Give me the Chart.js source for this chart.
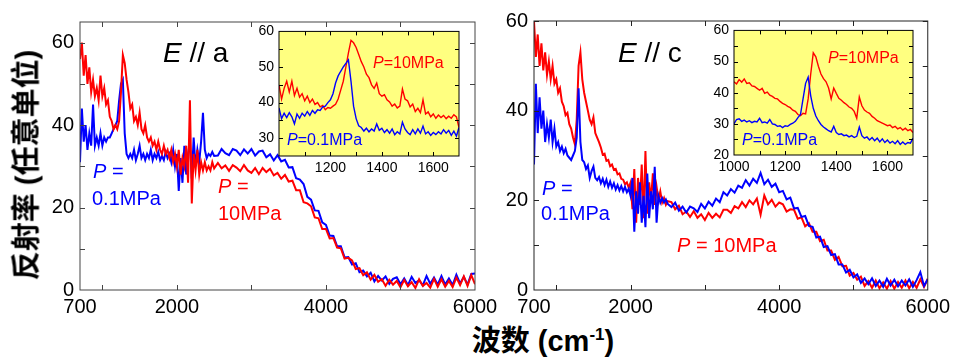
<!DOCTYPE html>
<html>
<head>
<meta charset="utf-8">
<script src="https://cdn.jsdelivr.net/npm/chart.js@4.4.1/dist/chart.umd.min.js"></script>
<style>
  body { margin: 0; background: #fff; }
  #wrap { position: relative; width: 955px; height: 358px; overflow: hidden; background: #fff;
          font-family: "Liberation Sans", Arial, sans-serif; }
  canvas { position: absolute; }
  .lbl { position: absolute; white-space: nowrap; line-height: 1; }
  .big { font-size: 28px; color: #000; }
  .p { font-size: 20px; }
  .ins { font-size: 16px; }
  .red { color: #f00; }
  .blue { color: #00f; }
  .title { position: absolute; white-space: nowrap; font-weight: bold; color: #000; line-height: 1;
           font-family: "Liberation Sans", "Noto Sans CJK SC", sans-serif; }
</style>
</head>
<body>
<div id="wrap">
  <canvas id="mainA" width="465" height="320" style="left:40px;top:0px"></canvas>
  <canvas id="mainC" width="461" height="320" style="left:494px;top:0px"></canvas>
  <canvas id="insetA" width="218" height="158" style="left:255px;top:18px"></canvas>
  <canvas id="insetC" width="221" height="158" style="left:708px;top:17px"></canvas>

  <div class="lbl big" style="left:163px;top:39px"><i>E</i> // a</div>
  <div class="lbl big" style="left:618px;top:39px"><i>E</i> // c</div>

  <div class="lbl p blue" style="left:93px;top:161px"><i>P</i> =</div>
  <div class="lbl p blue" style="left:92px;top:188px">0.1MPa</div>
  <div class="lbl p red" style="left:218px;top:176px"><i>P</i> =</div>
  <div class="lbl p red" style="left:218px;top:203px">10MPa</div>

  <div class="lbl p blue" style="left:542px;top:178px"><i>P</i> =</div>
  <div class="lbl p blue" style="left:541px;top:203px">0.1MPa</div>
  <div class="lbl p red" style="left:677px;top:235px"><i>P</i> = 10MPa</div>

  <div class="lbl ins red" style="left:373px;top:55px"><i>P</i>=10MPa</div>
  <div class="lbl ins blue" style="left:287px;top:132px"><i>P</i>=0.1MPa</div>
  <div class="lbl ins red" style="left:828px;top:50px"><i>P</i>=10MPa</div>
  <div class="lbl ins blue" style="left:742px;top:132px"><i>P</i>=0.1MPa</div>

  <div class="title" style="left:27px;top:165px;font-size:29px;transform:translate(-50%,-50%) rotate(-90deg)">反射率 (任意单位)</div>
  <div class="title" style="left:543px;top:341px;font-size:29px;transform:translate(-50%,-50%)">波数 (cm<sup style="font-size:17px">-1</sup>)</div>
</div>

<script>
// wavenumber grid shared by the main spectra (cm-1)
const waveNums = [
  700, 725, 750, 775, 800, 825, 850, 875, 900, 925, 950, 975,
  1000, 1025, 1050, 1075, 1100, 1125, 1150, 1175, 1200, 1225, 1250, 1275,
  1300, 1325, 1350, 1375, 1400, 1425, 1450, 1475, 1500, 1525, 1550, 1575,
  1600, 1625, 1650, 1675, 1700, 1725, 1750, 1775, 1800, 1825, 1850, 1875,
  1900, 1925, 1950, 1975, 2000, 2025, 2050, 2075, 2100, 2125, 2150, 2175,
  2200, 2225, 2250, 2275, 2300, 2325, 2350, 2375, 2400, 2425, 2450, 2475,
  2500,
  2550, 2600, 2650, 2700, 2750, 2800, 2850, 2900, 2950, 3000,
  3050, 3100, 3150, 3200, 3250, 3300, 3350, 3400, 3450, 3500,
  3550, 3600, 3650, 3700, 3750, 3800, 3850, 3900, 3950, 4000,
  4050, 4100, 4150, 4200, 4250, 4300, 4350, 4400, 4450, 4500,
  4550, 4600, 4650, 4700, 4750, 4800, 4850, 4900, 4950, 5000,
  5050, 5100, 5150, 5200, 5250, 5300, 5350, 5400, 5450, 5500,
  5550, 5600, 5650, 5700, 5750, 5800, 5850, 5900, 5950, 6000
];

// E // a, P = 10MPa
const redA = [
  56, 60, 52, 57, 50, 54, 48, 51, 47, 49, 46, 52,
  47, 49, 45, 46, 42, 41, 39, 40, 39, 41, 48, 57,
  55, 51, 48, 44, 45, 41, 42, 40, 43, 39, 38, 40,
  37, 36, 37, 35, 36, 34, 36, 34, 33, 35, 33, 34,
  32, 34, 31, 33, 30, 34, 28, 32, 30, 35, 26, 46,
  21, 33, 29, 34, 28, 31, 29, 31, 29, 30, 29, 31,
  29.5,
  30.8, 29.5, 30.2, 28.9, 30.3, 29.7, 28.8, 30.3, 29, 28.4,
  29.6, 28.1, 29.6, 28.6, 29.4, 27.8, 28.4, 27, 27.9, 26.3,
  26.5, 24.2, 24.2, 21.3, 21, 20.3, 17.6, 17.4, 14.8, 14.8,
  12.5, 12.6, 10.3, 10.1, 7.6, 7.8, 7.2, 5.1, 5.3, 3.6,
  4.3, 2.5, 3.7, 2, 2.6, 1, 2.5, 1.3, 2.2, 0.7,
  2.4, 0.9, 1.9, 0.5, 2.6, 1, 1.7, 0.6, 2.7, 0.8,
  2.6, 0.8, 2.2, 0.7, 3, 1.2, 3.3, 1, 3.6, 1.4
];
// E // a, P = 0.1MPa
const blueA = [
  31, 44, 36, 40, 34, 38, 35, 45, 35, 37, 35, 38,
  35, 37, 36, 37, 37, 38, 39, 40, 41, 46, 50, 51,
  38, 33, 32, 33, 32, 34, 31.5, 33, 35, 32, 33, 31.5,
  33, 32, 34, 31.5, 33, 32, 33.5, 31.5, 32.5, 31.5, 33.5, 32,
  33, 31, 34, 30, 33, 24, 32, 26, 35, 28, 33, 36,
  27, 37, 30, 34, 31, 36, 43, 34, 32, 33, 32.5, 33.5,
  32.5,
  32.6, 34.2, 33.2, 32.7, 34.2, 33.8, 32.7, 34.1, 33.1, 34.2,
  32.6, 33.6, 33.8, 32.2, 32.9, 31.4, 32.7, 31.2, 31.6, 29.7,
  29.8, 27.1, 26.8, 25.7, 22.6, 21.9, 19.3, 19.2, 16.4, 15.8,
  13.2, 13.1, 10.6, 10.6, 7.9, 8, 6.2, 6.5, 4.3, 4.7,
  3.3, 4.2, 2.1, 3.4, 2.3, 3.3, 1.5, 2.7, 3.1, 1.4,
  2.8, 1.2, 3.2, 1.7, 2.4, 1.1, 3.4, 1.5, 3, 1.3,
  3.4, 1.3, 2.8, 1.2, 3.7, 1.6, 3.2, 1.3, 3.9, 4
];
// E // c, P = 10MPa
const redC = [
  60, 52, 57, 50, 55, 49, 53, 48, 51, 47, 50, 46,
  47, 44, 45, 42, 41, 39, 39.5, 37, 36, 34, 32.5, 38,
  50, 53, 47, 44, 42, 40, 38, 37, 38.5, 35, 34, 33,
  31.8, 30.2, 30.4, 28.8, 29, 27.6, 28, 26.8, 27, 25.8, 26, 24.8,
  24.6, 23.6, 24, 22.8, 24, 18, 27, 15, 25, 19, 28, 16,
  31, 17, 24, 20, 26, 19, 23, 20, 22, 19.5, 20.5, 19,
  19.8,
  19.6, 18, 18.8, 16.9, 17.5, 16.3, 17.6, 16.1, 16.9, 15.6,
  17.2, 16.1, 17, 16.2, 17.9, 17.9, 17.2, 18.7, 18.2, 19.6,
  18.5, 20, 19.1, 20.4, 16.8, 21.1, 19.1, 20.1, 18.6, 19.5,
  19.1, 17.5, 18, 17.9, 15.9, 16.2, 14.2, 14.9, 13, 13,
  10.9, 11.2, 8.8, 8.8, 6.7, 7.4, 5.3, 5.4, 3.2, 3.8,
  2.3, 3, 0.9, 2, 0.5, 2.1, 0.4, 1.7, 0.3, 2,
  0.3, 1.8, 0.5, 2.1, 0.4, 1.8, 0.5, 2.4, 0.7, 2.5
];
// E // c, P = 0.1MPa
const blueC = [
  28, 46, 35, 43, 36, 40, 33, 37, 34, 38, 33, 36,
  32, 33, 31, 32, 30.5, 31.5, 30, 29.5, 29, 30, 31, 34,
  45, 33, 29, 28.5, 27, 27.8, 25, 26.5, 27.5, 25, 24.5, 25.2,
  23.8, 24.8, 23.4, 24.6, 23, 24.2, 22.8, 23.8, 22.4, 23.4, 22.2, 23.2,
  22, 23, 21.8, 22.6, 21, 25, 13, 22, 17, 24, 15, 21,
  14, 26, 16, 22, 18, 27.5, 15, 21, 19.5, 20.5, 19.5, 20.2,
  19.2,
  18.5, 19.5, 17.7, 18.6, 17.3, 18.6, 18.2, 17.4, 19.2, 18.2,
  19.7, 18.8, 20.4, 19.6, 21.8, 21.1, 22.5, 21.7, 23.3, 22.8,
  24.5, 23.3, 24.8, 23.9, 26.1, 23.6, 24.6, 23, 23.7, 21.8,
  22.1, 20.2, 20.6, 18.2, 18.3, 16.3, 16.5, 14.3, 14.1, 11.7,
  11.9, 9.6, 9.8, 7.8, 8, 5.7, 5.7, 3.9, 4.5, 2.8,
  3.5, 1.6, 2.6, 1.3, 2.6, 0.9, 2.1, 0.7, 2.5, 1,
  2.3, 0.8, 2.1, 1, 2.4, 0.7, 2.2, 4, 0.9, 2.4
];

// inset grid (cm-1)
const insetWaveNums = [
  1000, 1010, 1020, 1030, 1040, 1050, 1060, 1070, 1080, 1090,
  1100, 1110, 1120, 1130, 1140, 1150, 1160, 1170, 1180, 1190,
  1200, 1210, 1220, 1230, 1240, 1250, 1260, 1270, 1280, 1290,
  1300, 1310, 1320, 1330, 1340, 1350, 1360, 1370, 1380, 1390,
  1400, 1410, 1420, 1430, 1440, 1450, 1460, 1470, 1480, 1490,
  1500, 1510, 1520, 1530, 1540, 1550, 1560, 1570, 1580, 1590,
  1600, 1610, 1620, 1630, 1640, 1650, 1660, 1670, 1680, 1690,
  1700
];
const insRedA = [
  45, 41, 44, 46, 43, 46, 42, 44, 41.5, 42.5,
  40.5, 41.8, 40, 41, 39.5, 40, 38.8, 39.2, 38, 38.6,
  38.4, 39, 39.5, 41, 43.5, 46, 50, 54, 57.5, 56.8,
  55.5, 53.5, 51.5, 50, 48, 47, 45, 44, 45.5, 42.5,
  41.8, 42.2, 40.8, 40.2, 39, 39.6, 38.5, 39, 43.8, 41,
  40.5, 38.8, 39.6, 37.5, 38.4, 37.2, 40.8, 36.8, 37.4, 36,
  36.8, 35.6, 36.5, 35.8, 36.4, 35.5, 36.2, 35.6, 36.6, 36,
  33
];
const insBlueA = [
  38.5, 35.5, 37, 35.8, 37.2, 36, 34, 36.8, 35.6, 37,
  36.2, 37.5, 36.4, 37.8, 37, 38, 37.8, 38.8, 39, 40,
  40.8, 42.5, 45.5, 47.5, 48.8, 50, 51, 52, 46, 39,
  35.5, 33.5, 33, 32, 32.8, 31.8, 32.6, 32, 34, 32.2,
  32.8, 31.6, 32.4, 31.4, 32.6, 31, 31.8, 31.2, 34.5, 32.6,
  31.6, 31, 32.4, 31.2, 32.6, 31.4, 33.4, 31.2, 31.8, 30.8,
  31.6, 31, 31.8, 31.2, 32.4, 31.4, 32.2, 30.8, 32, 30.6,
  33
];
const insRedC = [
  43.5, 42.8, 44.2, 43.4, 44.4, 43, 43.2, 42.2, 42, 41.4,
  40.8, 41.4, 39.8, 40.2, 39.2, 38.8, 38.2, 38, 37.2, 36.6,
  36.2, 35.6, 35.2, 34.4, 34, 33, 32.6, 33.4, 33.2, 38,
  46, 52.8, 51.5, 48.5, 46, 44.5, 43.5, 41.5, 38, 41.5,
  39.8, 38.2, 37.6, 36.8, 36.2, 35.4, 35, 34, 31.8, 38.6,
  35.8, 34.4, 33.8, 33.4, 32.4, 31.8, 31, 30.6, 30.2, 29.8,
  29.4, 29.6, 28.8, 29.2, 28.4, 28.8, 28, 28.6, 27.8, 28.2,
  27.2
];
const insBlueC = [
  30, 31.4, 31.6, 30.8, 31.2, 30.6, 31, 30.4, 30.8, 30.6,
  31.8, 30.4, 30.6, 30.2, 31.4, 30, 29.8, 29.2, 29.4, 28.8,
  29.4, 29.2, 29.8, 30.2, 30.8, 32, 33, 38, 43, 45,
  39, 35, 32.5, 31, 29.8, 29, 28.4, 27.8, 27.4, 29.2,
  27.2, 26.6, 26.8, 26.2, 26.4, 25.8, 26.2, 25.6, 26, 29,
  26.2, 25.4, 25.8, 24.8, 25.6, 24.6, 25.4, 24.2, 25.2, 24,
  24.8, 23.8, 24.4, 23.6, 24.6, 23.4, 24.2, 23.4, 24, 23.8,
  25.4
];

// tick labels and tick marks
const mainXLabels = [700, 2000, 4000, 6000];
const mainXMarks = [1000, 2000, 3000, 4000, 5000];
const mainYLabels = [0, 20, 40, 60];
const mainYMarks = [10, 20, 30, 40, 50, 60];
const insetXLabelsA = [1200, 1400, 1600];
const insetXLabelsC = [1000, 1200, 1400, 1600];
const insetXMarks = [1100, 1200, 1300, 1400, 1500, 1600];
const insetYLabelsA = [30, 40, 50, 60];
const insetYLabelsC = [20, 30, 40, 50, 60];
const insetYMarksA = [30, 35, 40, 45, 50, 55];
const insetYMarksC = [25, 30, 35, 40, 45, 50, 55];

const FONT = "'Liberation Sans', Arial, sans-serif";

// box frame with inward tick marks on all four sides
const frameTicks = {
  id: "frameTicks",
  beforeDatasetsDraw(chart, args, opts) {
    if (!opts.fill) return;
    const a = chart.chartArea;
    chart.ctx.save();
    chart.ctx.fillStyle = opts.fill;
    chart.ctx.fillRect(a.left, a.top, a.width, a.height);
    chart.ctx.restore();
  },
  afterDraw(chart, args, opts) {
    const { ctx, chartArea: a, scales } = chart;
    const len = opts.len || 5;
    ctx.save();
    ctx.strokeStyle = opts.color || "#000";
    ctx.lineWidth = opts.lineWidth || 1;
    ctx.beginPath();
    (opts.xMarks || []).forEach((v) => {
      const px = Math.round(scales.x.getPixelForValue(v)) + 0.5;
      ctx.moveTo(px, a.bottom); ctx.lineTo(px, a.bottom - len);
      ctx.moveTo(px, a.top); ctx.lineTo(px, a.top + len);
    });
    (opts.yMarks || []).forEach((v) => {
      const py = Math.round(scales.y.getPixelForValue(v)) + 0.5;
      ctx.moveTo(a.left, py); ctx.lineTo(a.left + len, py);
      ctx.moveTo(a.right, py); ctx.lineTo(a.right - len, py);
    });
    ctx.stroke();
    ctx.strokeRect(a.left, a.top, a.width, a.height);
    ctx.restore();
  },
};
Chart.register(frameTicks);

function series(xs, ys, color, width) {
  return {
    data: xs.map((x, i) => ({ x, y: ys[i] })),
    borderColor: color,
    borderWidth: width,
    pointRadius: 0,
    tension: 0,
    fill: false,
  };
}

function makeChart(id, o) {
  return new Chart(document.getElementById(id), {
    type: "line",
    data: { datasets: o.datasets },
    options: {
      responsive: false,
      animation: false,
      devicePixelRatio: 1,
      layout: { padding: o.padding },
      plugins: {
        legend: { display: false },
        tooltip: { enabled: false },
        frameTicks: o.frame,
      },
      scales: {
        x: {
          type: "linear",
          min: o.xMin,
          max: o.xMax,
          grid: { display: false, drawTicks: false },
          border: { display: false },
          afterBuildTicks: (s) => { s.ticks = o.xLabels.map((v) => ({ value: v })); },
          afterFit: (s) => { s.height = o.xHeight; },
          ticks: {
            autoSkip: false,
            maxRotation: 0,
            padding: o.xPad,
            color: "#000",
            font: { family: FONT, size: o.fontSize },
            callback: (v) => String(v),
          },
        },
        y: {
          min: o.yMin,
          max: o.yMax,
          grid: { display: false, drawTicks: false },
          border: { display: false },
          afterBuildTicks: (s) => { s.ticks = o.yLabels.map((v) => ({ value: v })); },
          afterFit: (s) => { s.width = o.yWidth; },
          ticks: {
            padding: o.yPad,
            color: "#000",
            font: { family: FONT, size: o.fontSize },
            callback: (v) => String(v),
          },
        },
      },
    },
  });
}

// left panel: E // a
makeChart("mainA", {
  datasets: [series(waveNums, redA, "#ff0000", 2), series(waveNums, blueA, "#0000ff", 2)],
  padding: { top: 22, right: 30, left: 0, bottom: 0 },
  xMin: 700, xMax: 6000, yMin: 0, yMax: 65,
  xLabels: mainXLabels, yLabels: mainYLabels,
  xHeight: 30, yWidth: 40, xPad: 5, yPad: 6, fontSize: 20,
  frame: { xMarks: mainXMarks, yMarks: mainYMarks, len: 5, color: "#444", lineWidth: 1 },
});

// right panel: E // c
makeChart("mainC", {
  datasets: [series(waveNums, blueC, "#0000ff", 2), series(waveNums, redC, "#ff0000", 2)],
  padding: { top: 21, right: 26, left: 0, bottom: 0 },
  xMin: 700, xMax: 6000, yMin: 0, yMax: 60,
  xLabels: mainXLabels, yLabels: mainYLabels,
  xHeight: 30, yWidth: 40, xPad: 5, yPad: 6, fontSize: 20,
  frame: { xMarks: mainXMarks, yMarks: mainYMarks, len: 5, color: "#222", lineWidth: 1 },
});

// insets
makeChart("insetA", {
  datasets: [series(insetWaveNums, insBlueA, "#0000ff", 1.4), series(insetWaveNums, insRedA, "#ff0000", 1.4)],
  padding: { top: 12, right: 14, left: 0, bottom: 0 },
  xMin: 1000, xMax: 1700, yMin: 25, yMax: 60,
  xLabels: insetXLabelsA, yLabels: insetYLabelsA,
  xHeight: 20, yWidth: 24, xPad: 4, yPad: 5, fontSize: 14,
  frame: { xMarks: insetXMarks, yMarks: insetYMarksA, len: 4, color: "#000", lineWidth: 1, fill: "#ffff80" },
});

makeChart("insetC", {
  datasets: [series(insetWaveNums, insBlueC, "#0000ff", 1.4), series(insetWaveNums, insRedC, "#ff0000", 1.4)],
  padding: { top: 12, right: 16, left: 0, bottom: 0 },
  xMin: 1000, xMax: 1700, yMin: 20, yMax: 60,
  xLabels: insetXLabelsC, yLabels: insetYLabelsC,
  xHeight: 20, yWidth: 26, xPad: 4, yPad: 5, fontSize: 14,
  frame: { xMarks: insetXMarks, yMarks: insetYMarksC, len: 4, color: "#000", lineWidth: 1, fill: "#ffff80" },
});
</script>
</body>
</html>
